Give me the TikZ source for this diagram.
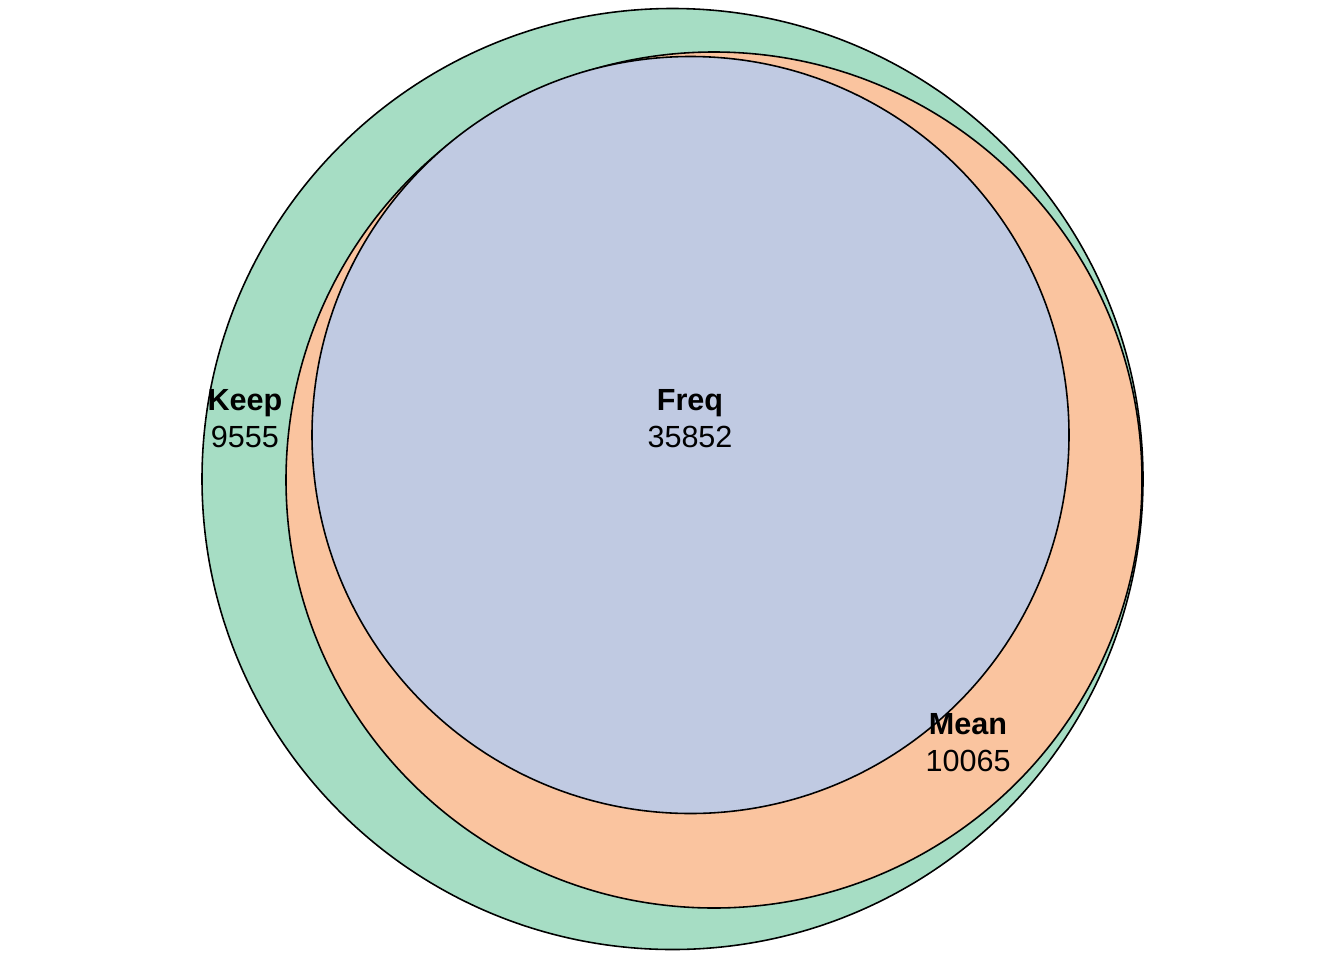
\documentclass[tikz,border=0pt]{standalone}
\usepackage{fontspec}
\setmainfont{Liberation Sans}
\definecolor{keepgreen}{RGB}{166,221,196}
\definecolor{meanorange}{RGB}{250,196,159}
\definecolor{freqblue}{RGB}{192,202,226}
\tikzset{
  setcircle/.style={draw=black, line width=0.9pt},
  setlabel/.style={align=center, inner sep=0pt,
                   font=\fontsize{17.4}{21}\selectfont}
}
\begin{document}
\begin{tikzpicture}[x=0.02cm, y=-0.02cm]
  \useasboundingbox (0,0) rectangle (1344,960);
  % the three sets, largest first
  \draw[setcircle, fill=keepgreen] (672.5,479) circle (470.5);
  \draw[setcircle, fill=meanorange] (714,480) circle (428);
  \draw[setcircle, fill=freqblue] (690.5,435) circle (378.5);
  % labels
  \node[setlabel] (keep) at (245,419) {\textbf{Keep}\\9555};
  \node[setlabel] (freq) at (690,419) {\textbf{Freq}\\35852};
  \node[setlabel] (mean) at (968,743) {\textbf{Mean}\\10065};
\end{tikzpicture}
\end{document}
